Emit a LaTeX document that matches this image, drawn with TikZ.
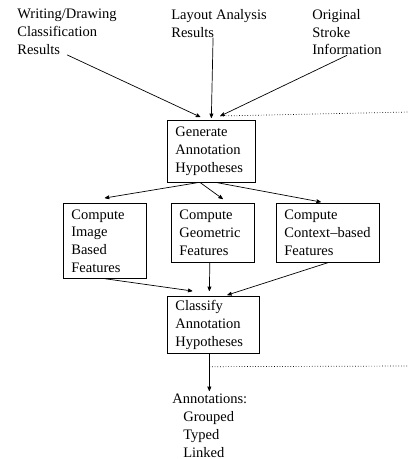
\documentclass[tikz,border=0pt]{standalone}
\usepackage{fontspec}
\setmainfont{Liberation Serif}
\usepackage{tikz}
\usetikzlibrary{positioning}
\usetikzlibrary{arrows}

\begin{document}
\begin{tikzpicture}[x=1pt,y=-1pt,->,>=stealth',line width=0.7pt,
    font=\fontsize{14.5}{17.7}\selectfont,
    src/.style={inner sep=0pt,align=left,anchor=north west},
    procbox/.style={draw,anchor=north west,align=left,inner xsep=8pt,inner ysep=3pt}]
  \useasboundingbox (0,0) rectangle (409,459);
  % inputs
  \node[src] (WD) at (17,9)  {Writing/Drawing\\Classification\\Results};
  \node[src] (LA) at (171,9) {Layout Analysis\\Results};
  \node[src] (OS) at (312,9) {Original\\Stroke\\Information};
  % processing steps
  \node[procbox,text width=72pt,minimum height=62pt] (G)  at (167,120) {Generate\\Annotation\\Hypotheses};
  \node[procbox,text width=67pt,minimum height=75pt] (IF) at (63,203)  {Compute\\Image\\Based\\Features};
  \node[procbox,text width=67pt,minimum height=59pt] (GF) at (171,203) {Compute\\Geometric\\Features};
  \node[procbox,text width=87pt,minimum height=59pt] (CF) at (276,203) {Compute\\Context--based\\Features};
  \node[procbox,text width=76pt,minimum height=57pt] (C)  at (167,296) {Classify\\Annotation\\Hypotheses};
  \node[src] (An) at (172,394) {Annotations:\\\hspace*{11pt}Grouped\\\hspace*{11pt}Typed\\\hspace*{11pt}Linked};
  \coordinate (GR) at ([xshift=9pt,yshift=4pt]G.north);
  \coordinate (E1) at (409,112);
  \coordinate (CD) at ([xshift=-4pt,yshift=-13pt]C.south);
  \coordinate (E2) at (409,366);
  % connectors
  \draw (WD.south) -- ([xshift=-11pt,yshift=3pt]G.north);
  \draw ([xshift=-6pt]LA.south) -- ([yshift=2pt]G.north);
  \draw (OS.south) -- (GR);
  \draw[-,dotted] (GR) -- (E1);
  \draw ([xshift=-14pt]G.south) -- ([yshift=5pt]IF.north);
  \draw ([xshift=-11pt]G.south) -- ([xshift=10pt,yshift=4pt]GF.north);
  \draw ([xshift=6pt]G.south) -- ([xshift=-7pt,yshift=1pt]CF.north);
  \draw (IF.south) -- ([xshift=-21pt,yshift=5pt]C.north);
  \draw ([xshift=-3pt]GF.south) -- ([xshift=-4pt,yshift=5pt]C.north);
  \draw (CF.south) -- ([xshift=14pt,yshift=1pt]C.north);
  \draw ([xshift=-4pt]C.south) -- ([yshift=3pt]An.north west -| CD);
  \draw[-,dotted] (CD) -- (E2);
\end{tikzpicture}
\end{document}
